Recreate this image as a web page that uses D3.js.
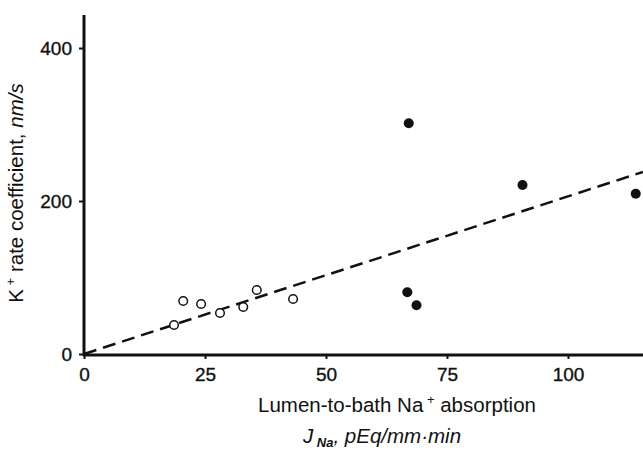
<!DOCTYPE html>
<meta charset="utf-8">
<head>
<title>K+ rate coefficient vs Na+ absorption</title>
<style>
body { margin: 0; background: #fff; }
text { font-family: "Liberation Sans", Arial, sans-serif; fill: #111; }
</style>
</head>
<body>
<div id="chart"></div>
<script src="https://cdn.jsdelivr.net/npm/d3@7"></script>
<script>
var width = 643,
    height = 453;

// open circles
var openX = [18.6, 20.5, 24.2, 28.1, 32.9, 35.7, 43.2];
var openY = [37.9, 69.3, 65.4, 53.6, 61.4, 83.7, 71.9];
// filled circles
var fillX = [67.1, 90.6, 114.0, 66.8, 68.7];
var fillY = [301.6, 220.9, 209.5, 80.7, 63.7];
// dashed regression line
var lineX = [0, 115.5];
var lineY = [0, 238];

var xTicks = [0, 25, 50, 75, 100];
var yTicks = [0, 200, 400];

var x = d3.scaleLinear().domain([0, 115.5]).range([84, 643]);
var y = d3.scaleLinear().domain([0, 400]).range([354, 48]);

var svg = d3.select("#chart").append("svg")
    .attr("width", width)
    .attr("height", height);

// axes
svg.append("g")
    .attr("transform", "translate(84,0)")
    .call(d3.axisLeft(y).tickValues(yTicks).tickSize(5).tickPadding(7).tickSizeOuter(0));
svg.append("g")
    .attr("transform", "translate(0,355)")
    .call(d3.axisBottom(x).tickValues(xTicks).tickSize(4).tickPadding(9).tickSizeOuter(0));

svg.selectAll(".tick text")
    .style("font-family", "'Liberation Sans', Arial, sans-serif")
    .style("font-size", "19px")
    .attr("fill", "#111")
    .attr("stroke", "#111")
    .attr("stroke-width", 0.35);
svg.selectAll(".tick line").attr("stroke", "#111").attr("stroke-width", 2);
svg.selectAll(".domain").remove();

// axis lines drawn thicker than d3 default
svg.append("line")
    .attr("x1", 84).attr("x2", 84)
    .attr("y1", 15).attr("y2", 356)
    .attr("stroke", "#111").attr("stroke-width", 3);
svg.append("line")
    .attr("x1", 83).attr("x2", 643)
    .attr("y1", 355).attr("y2", 355)
    .attr("stroke", "#111").attr("stroke-width", 3);

// dashed line
svg.append("line")
    .attr("x1", x(lineX[0])).attr("y1", y(lineY[0]))
    .attr("x2", x(lineX[1])).attr("y2", y(lineY[1]))
    .attr("stroke", "#111")
    .attr("stroke-width", 2.5)
    .attr("stroke-dasharray", "13,7");

var openPts = openX.map(function(d, i) { return [d, openY[i]]; });
var fillPts = fillX.map(function(d, i) { return [d, fillY[i]]; });

svg.append("g").selectAll("circle")
    .data(openPts)
    .enter().append("circle")
    .attr("cx", function(d) { return x(d[0]); })
    .attr("cy", function(d) { return y(d[1]); })
    .attr("r", 4.3)
    .attr("fill", "#fff")
    .attr("stroke", "#111")
    .attr("stroke-width", 1.5);

svg.append("g").selectAll("circle")
    .data(fillPts)
    .enter().append("circle")
    .attr("cx", function(d) { return x(d[0]); })
    .attr("cy", function(d) { return y(d[1]); })
    .attr("r", 5)
    .attr("fill", "#111");

// y label
var yl = svg.append("text")
    .attr("transform", "translate(23,193) rotate(-90)")
    .attr("text-anchor", "middle")
    .style("font-size", "20.5px");
yl.append("tspan").text("K");
yl.append("tspan").attr("dy", -8).style("font-size", "13px").text(" +");
yl.append("tspan").attr("dy", 8).text(" rate coefficient, ");
yl.append("tspan").style("font-style", "italic").text("nm/s");

// x label
var xl = svg.append("text")
    .attr("x", 397).attr("y", 412)
    .attr("text-anchor", "middle")
    .style("font-size", "20.5px");
xl.append("tspan").text("Lumen-to-bath Na");
xl.append("tspan").attr("dy", -8).style("font-size", "13px").text(" +");
xl.append("tspan").attr("dy", 8).text(" absorption");

var xl2 = svg.append("text")
    .attr("x", 382).attr("y", 443)
    .attr("text-anchor", "middle")
    .style("font-size", "20.5px")
    .style("font-style", "italic");
xl2.append("tspan").text("J");
xl2.append("tspan").attr("dy", 4).style("font-size", "13px").style("font-weight", "bold").text(" Na");
xl2.append("tspan").attr("dy", -4).text(", pEq/mm\u00b7min");
</script>
</body>
